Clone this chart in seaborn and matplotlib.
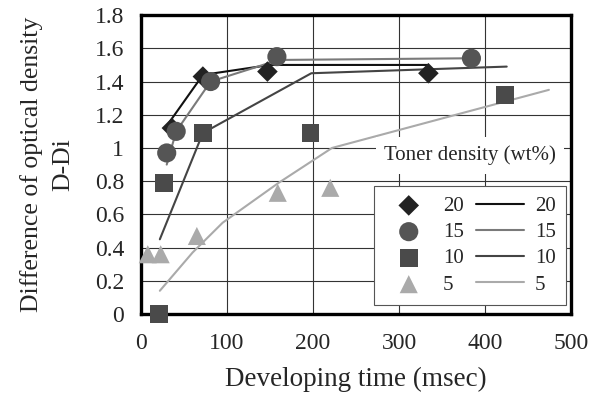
import matplotlib
matplotlib.use("Agg")
import matplotlib.pyplot as plt
import seaborn as sns
import pandas as pd

# measured points
t20 = [36, 72, 147, 334]
d20 = [1.12, 1.43, 1.46, 1.45]
t15 = [30, 41, 81, 158, 384]
d15 = [0.97, 1.10, 1.40, 1.55, 1.54]
t10 = [21, 27, 72, 197, 423]
d10 = [0.0, 0.79, 1.09, 1.09, 1.32]
t5 = [8, 23, 65, 159, 220]
d5 = [0.36, 0.36, 0.47, 0.73, 0.76]

# fitted curves
ft20 = [31, 72, 150, 333]
fd20 = [1.14, 1.44, 1.50, 1.50]
ft15 = [30, 41, 81, 160, 378]
fd15 = [0.90, 1.10, 1.40, 1.53, 1.54]
ft10 = [22, 72, 198, 425]
fd10 = [0.45, 1.09, 1.45, 1.49]
ft5 = [22, 60, 95, 160, 222, 474]
fd5 = [0.14, 0.37, 0.55, 0.79, 1.00, 1.35]

labels = ["20", "15", "10", "5"]
xticks = [0, 100, 200, 300, 400, 500]
yticks = [0, 0.2, 0.4, 0.6, 0.8, 1.0, 1.2, 1.4, 1.6, 1.8]
yticklabels = ["0", "0.2", "0.4", "0.6", "0.8", "1", "1.2", "1.4", "1.6", "1.8"]

sns.set_style("white")
plt.rcParams["font.family"] = ["Liberation Serif", "DejaVu Serif"]

fig = plt.figure(figsize=(5.92, 3.98), dpi=100)
ax = fig.add_axes([0.238, 0.211, 0.727, 0.751])

pts = [(t20, d20), (t15, d15), (t10, d10), (t5, d5)]
fits = [(ft20, fd20), (ft15, fd15), (ft10, fd10), (ft5, fd5)]
mcolors = ["#222222", "#555555", "#4a4a4a", "#aaaaaa"]
lcolors = ["#111111", "#7a7a7a", "#444444", "#aaaaaa"]
markers = ["D", "o", "s", "^"]
msizes = [110, 190, 160, 170]

for (ft, fd), c, lab in zip(fits, lcolors, labels):
    df = pd.DataFrame({"t": ft, "d": fd})
    sns.lineplot(data=df, x="t", y="d", ax=ax, color=c, lw=1.5, sort=False,
                 estimator=None, label="line" + lab, zorder=3)

for (t, d), c, m, s, lab in zip(pts, mcolors, markers, msizes, labels):
    df = pd.DataFrame({"t": t, "d": d})
    sns.scatterplot(data=df, x="t", y="d", ax=ax, color=c, marker=m, s=s,
                    edgecolor="none", label="pt" + lab, zorder=4, clip_on=False)

ax.set_xlim(0, 500)
ax.set_ylim(0, 1.8)
ax.set_xticks(xticks)
ax.set_yticks(yticks)
ax.set_yticklabels(yticklabels)
ax.grid(True, color="#333333", lw=0.8)
ax.set_axisbelow(True)
for sp in ax.spines.values():
    sp.set_visible(True)
    sp.set_color("black")
    sp.set_linewidth(2.4)
ax.tick_params(direction="in", length=5, width=0.8, labelsize=17,
               color="#333333")
ax.tick_params(axis="x", pad=14)
ax.tick_params(axis="y", pad=12)
ax.set_xlabel("Developing time (msec)", fontsize=19.5, labelpad=9)
ax.set_ylabel("Difference of optical density\nD-Di", fontsize=18.5,
              labelpad=15, linespacing=1.55)

h, l = ax.get_legend_handles_labels()
hd = dict(zip(l, h))
handles = [hd["pt" + k] for k in labels] + [hd["line" + k] for k in labels]
leg = ax.legend(handles, labels + labels, ncol=2, loc="lower right",
                bbox_to_anchor=(0.988, 0.03), fontsize=15, frameon=True,
                fancybox=False, edgecolor="#555555", framealpha=1,
                borderaxespad=0, handlelength=2.3, columnspacing=0.6,
                handletextpad=0.5, labelspacing=0.32, borderpad=0.5)
leg.get_frame().set_linewidth(0.8)

ax.text(0.765, 0.53, "Toner density (wt%)", transform=ax.transAxes,
        ha="center", va="center", fontsize=15,
        bbox=dict(facecolor="white", edgecolor="none", pad=6), zorder=5)

fig.savefig("out.png", dpi=100)
